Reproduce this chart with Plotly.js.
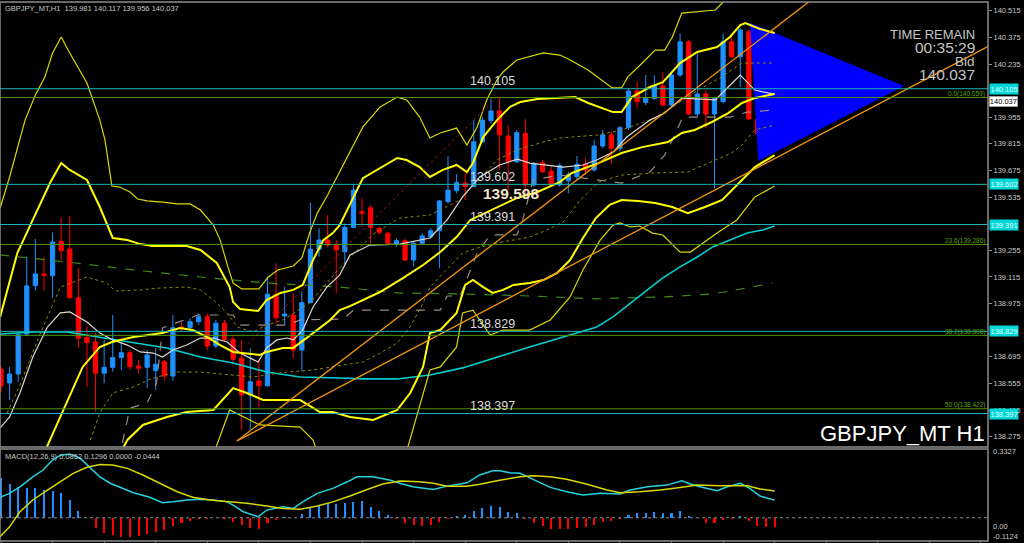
<!DOCTYPE html>
<html><head><meta charset="utf-8">
<script src="https://cdn.plot.ly/plotly-3.0.1.min.js"></script>
<style>html,body{margin:0;padding:0;background:#000;}#chart{width:1024px;height:543px;}</style>
</head><body><div id="chart"></div>
<script>
// ---------------- DATA ----------------
const symbol = 'GBPJPY_MT';
const timeframe = 'H1';
const barIndex = Array.from({length: 91}, (_, i) => i);
const open = [138.631,138.558,138.605,138.815,139.069,139.131,139.122,139.303,139.262,139.006,
138.798,138.773,138.609,138.640,138.691,138.717,138.647,138.640,138.622,138.670,
138.594,138.852,138.850,138.880,138.906,138.752,138.872,138.787,138.688,138.495,
138.568,138.543,139.024,138.910,138.915,138.731,138.980,139.261,139.309,139.283,
139.248,139.376,139.458,139.479,139.371,139.345,139.288,139.306,139.204,139.292,
139.327,139.358,139.511,139.569,139.608,139.590,139.826,139.937,139.988,139.856,
139.721,139.870,139.599,139.716,139.672,139.599,139.621,139.642,139.709,139.678,
139.804,139.862,139.792,139.900,140.093,140.033,140.054,140.119,140.019,140.177,
140.352,139.972,140.077,139.972,140.037,140.352,140.273,140.405,139.946,139.874,139.981];
const high = [138.647,138.642,138.821,139.222,139.315,139.220,139.348,139.429,139.436,139.162,
138.854,138.821,138.784,138.915,138.775,138.731,138.679,138.731,138.740,138.679,
138.915,138.880,138.898,138.924,138.924,138.889,138.889,138.801,138.784,138.740,
138.679,139.117,139.187,139.064,139.029,139.038,139.506,139.371,139.441,139.309,
139.397,139.602,139.529,139.494,139.379,139.353,139.318,139.318,139.301,139.345,
139.371,139.520,139.751,139.656,139.660,139.940,139.958,140.054,140.058,139.914,
139.888,139.944,139.721,139.730,139.695,139.713,139.669,139.751,139.739,139.835,
139.888,139.879,139.909,140.107,140.142,140.177,140.177,140.194,140.194,140.396,
140.361,140.291,140.098,140.063,140.396,140.396,140.423,140.414,140.037,140.028,140.117];
const low = [138.510,138.468,138.563,138.810,139.043,139.041,139.005,139.204,138.999,138.742,
138.538,138.407,138.556,138.617,138.626,138.626,138.609,138.531,138.521,138.570,
138.570,138.827,138.827,138.863,138.731,138.740,138.775,138.661,138.311,138.311,
138.433,138.538,138.872,138.863,138.688,138.617,138.977,139.222,139.274,139.029,
139.178,139.371,139.379,139.292,139.336,139.283,139.274,139.199,139.169,139.283,
139.318,139.161,139.502,139.555,139.520,139.586,139.822,139.923,139.678,139.572,
139.713,139.555,139.590,139.660,139.590,139.590,139.555,139.625,139.651,139.669,
139.792,139.709,139.774,139.888,140.002,140.019,140.046,140.010,140.014,140.168,
139.967,139.958,139.897,139.581,140.028,140.265,140.115,139.940,139.862,139.870,139.956];
const close = [138.542,138.605,138.814,139.068,139.131,139.123,139.299,139.253,139.006,138.793,
138.770,138.609,138.640,138.691,138.717,138.643,138.635,138.705,138.656,138.594,
138.848,138.843,138.880,138.906,138.752,138.872,138.787,138.682,138.495,138.564,
138.543,139.024,138.901,138.920,138.731,138.980,139.261,139.309,139.283,139.257,
139.376,139.572,139.450,139.376,139.350,139.292,139.306,139.204,139.292,139.331,
139.358,139.515,139.572,139.611,139.590,139.826,139.940,139.988,139.862,139.721,
139.874,139.599,139.709,139.669,139.599,139.700,139.655,139.707,139.678,139.804,
139.862,139.792,139.900,140.093,140.037,140.054,140.119,140.019,140.177,140.352,
139.972,140.077,139.972,140.054,140.352,140.273,140.414,139.946,139.870,140.014,140.037];

// Bollinger bands: x = bar index, y = price
const bbUp3X = [-0.1,1.0,2.8,4.0,5.1,6.0,7.0,8.0,10.0,11.5,12.1,12.9,13.8,15.0,15.9,17.0,18.8,20.5,22.0,23.2,24.7,25.5,26.4,27.0,28.0,30.0,31.1,32.2,34.0,35.0,35.9,36.8,38.0,40.3,42.1,44.1,46.1,47.2,48.7,49.9,51.1,53.0,54.2,55.4,56.5,57.7,58.4,60.0,61.5,63.1,65.0,66.0,68.3,69.9,71.1,72.2,72.9,74.6,76.1,77.2,78.1,79.2,80.7,83.1,84.0,85.4,87.7,90.0];
const bbUp3Y = [139.478,139.641,139.940,140.072,140.166,140.293,140.377,140.293,140.135,139.940,139.835,139.593,139.588,139.562,139.525,139.515,139.509,139.499,139.499,139.467,139.388,139.309,139.168,139.083,139.052,139.052,139.115,139.152,139.173,139.215,139.346,139.451,139.546,139.746,139.904,140.009,140.061,140.046,139.956,139.846,139.872,139.898,139.809,139.904,140.046,140.151,140.193,140.256,140.272,140.293,140.282,140.261,140.203,140.151,140.109,140.109,140.166,140.240,140.308,140.308,140.377,140.503,140.508,140.519,140.561,140.634,140.650,140.561];
const bbUp2X = [-0.1,1.9,3.7,5.7,7.0,8.0,10.0,11.5,13.0,14.7,16.2,17.7,21.6,23.2,25.1,26.6,27.0,27.8,29.9,30.9,32.5,34.0,35.1,36.3,37.5,38.6,39.4,42.1,46.1,47.2,48.7,49.9,51.4,53.0,54.2,54.9,56.1,57.7,59.2,60.4,62.4,65.0,66.8,68.3,71.2,72.2,73.4,75.5,77.0,79.0,81.0,83.3,84.8,86.0,86.6,88.3,90.0];
const bbUp2Y = [138.905,139.241,139.415,139.609,139.714,139.678,139.625,139.483,139.320,139.309,139.288,139.278,139.278,139.257,139.189,139.062,138.984,138.947,138.936,138.994,139.031,139.047,139.073,139.204,139.309,139.346,139.388,139.635,139.741,139.730,139.693,139.641,139.678,139.704,139.667,139.714,139.851,139.940,140.009,140.035,140.051,140.056,140.061,140.030,139.982,139.982,140.061,140.114,140.140,140.240,140.298,140.324,140.377,140.440,140.450,140.419,140.398];
const bbUp1X = [0.7,2.2,4.5,6.9,10.0,12.3,13.3,16.2,18.5,21.6,23.2,24.7,26.3,27.5,29.3,30.9,32.8,35.9,39.4,43.3,46.4,49.9,53.4,55.7,57.7,60.0,63.1,65.0,69.5,72.2,76.1,78.4,81.1,83.6,86.2,90.0];
const bbUp1Y = [138.400,138.547,138.810,139.062,139.115,139.083,139.041,139.047,139.057,139.062,139.047,138.994,138.926,138.852,138.826,138.862,138.889,138.978,139.162,139.341,139.425,139.441,139.520,139.635,139.730,139.783,139.825,139.846,139.862,139.888,139.951,140.019,140.098,140.161,140.240,140.240];
const bbMidX = [4.5,5.7,7.7,9.5,11.5,12.9,15.4,17.0,18.8,20.8,22.3,24.0,25.5,27.0,30.1,30.9,32.8,34.0,34.8,36.3,38.3,39.4,40.6,44.1,46.8,49.1,51.1,53.0,54.6,57.7,60.0,62.4,65.0,66.4,69.5,72.2,74.6,77.6,79.2,80.7,82.7,84.6,86.2,87.7,90.0];
const bbMidY = [138.137,138.258,138.468,138.642,138.747,138.773,138.799,138.810,138.820,138.847,138.836,138.799,138.757,138.721,138.705,138.721,138.742,138.742,138.768,138.820,138.889,138.941,138.962,139.036,139.110,139.178,139.246,139.325,139.415,139.483,139.530,139.562,139.614,139.662,139.714,139.767,139.798,139.825,139.872,139.888,139.930,139.977,140.030,140.056,140.077];
const bbLo1X = [10.4,11.5,13.0,15.4,17.7,20.5,23.2,26.3,29.3,30.9,33.3,36.3,38.6,42.1,44.1,46.1,47.6,49.1,49.9,53.7,55.4,57.7,59.6,61.5,63.5,65.4,67.4,69.5,72.2,76.1,79.9,82.2,85.0,86.2,87.7,90.0];
const bbLo1Y = [138.258,138.400,138.505,138.537,138.584,138.615,138.615,138.600,138.589,138.600,138.615,138.626,138.642,138.668,138.715,138.768,138.852,138.978,139.062,139.241,139.267,139.294,139.309,139.325,139.362,139.404,139.520,139.614,139.651,139.662,139.667,139.714,139.767,139.809,139.888,139.914];
const bbLo2X = [13.9,14.7,16.5,19.3,21.6,24.7,27.0,28.6,30.5,34.8,37.1,38.6,40.6,43.3,46.1,47.6,49.1,49.9,51.1,53.0,54.0,54.9,56.1,57.2,58.4,59.6,61.5,63.1,64.7,66.2,67.7,69.2,70.8,72.2,74.1,76.1,78.1,79.9,81.9,83.9,86.2,87.7,90.0];
const bbLo2Y = [138.190,138.258,138.337,138.379,138.405,138.416,138.531,138.505,138.468,138.468,138.405,138.405,138.379,138.363,138.416,138.505,138.642,138.820,138.836,138.926,139.073,139.099,139.062,139.031,139.047,139.073,139.083,139.099,139.136,139.204,139.320,139.425,139.494,139.520,139.515,139.504,139.483,139.451,139.483,139.520,139.625,139.693,139.756];
const bbLo3X = [24.9,26.6,30.1,34.8,36.3,36.9,41.7,47.0,47.3,48.7,49.9,51.1,53.0,53.7,54.9,56.9,58.4,61.5,63.9,66.2,67.7,69.7,71.2,72.0,73.2,74.3,75.8,77.0,79.0,80.2,81.0,83.3,85.6,87.7,90.0];
const bbLo3Y = [138.205,138.416,138.337,138.326,138.258,138.179,138.048,138.153,138.216,138.431,138.626,138.642,138.747,138.926,138.941,138.810,138.836,138.836,138.889,139.010,139.152,139.309,139.388,139.399,139.378,139.383,139.346,139.336,139.246,139.246,139.273,139.346,139.415,139.536,139.593];
// Moving averages
const maFastX = [-0.1,1.0,2.2,3.7,5.4,6.9,8.0,10.0,11.5,13.0,14.7,16.2,17.7,18.8,20.0,21.6,23.2,24.7,26.3,27.8,29.9,30.9,32.1,33.3,34.0,35.1,36.3,37.9,39.4,40.6,42.9,46.4,49.9,51.9,53.7,55.7,58.0,60.1,61.5,65.4,67.7,69.3,71.2,72.8,75.5,77.2,79.2,81.1,83.1,84.6,86.0,87.7,88.6,90.0];
const maFastY = [138.321,138.379,138.505,138.694,138.852,138.926,138.931,138.878,138.820,138.784,138.757,138.721,138.715,138.694,138.731,138.757,138.794,138.794,138.773,138.715,138.668,138.742,138.784,138.794,138.784,138.836,138.957,139.062,139.125,139.231,139.283,139.288,139.320,139.415,139.536,139.641,139.704,139.735,139.714,139.693,139.704,139.730,139.772,139.851,139.940,139.977,140.056,140.051,140.046,140.114,140.177,140.098,140.088,140.077];
const maSlowX = [-0.1,3.7,7.7,11.5,15.4,19.3,23.2,27.0,30.9,34.8,39.4,42.1,46.1,49.9,53.7,57.7,61.5,65.4,69.3,71.2,73.2,75.2,77.0,79.0,81.0,82.8,84.8,86.8,88.6,90.0];
const maSlowY = [138.815,138.826,138.826,138.799,138.768,138.742,138.694,138.663,138.615,138.589,138.584,138.579,138.579,138.600,138.637,138.694,138.747,138.799,138.852,138.905,138.978,139.047,139.110,139.168,139.220,139.273,139.309,139.346,139.362,139.383];
const ma200X = [-0.1,7.7,15.4,23.2,30.9,39.4,46.1,53.7,61.5,69.3,77.0,82.8,86.8,89.7];
const ma200Y = [139.231,139.194,139.152,139.115,139.083,139.062,139.031,139.026,139.015,139.000,139.010,139.026,139.057,139.083];
const kijunX = [13.6,14.2,15.0,17.0,18.1,18.8,22.9,27.0,27.8,33.3,34.8,39.8,41.0,51.1,51.9,53.4,55.4,56.9,60.0,60.6,61.2,61.9,65.0,69.7,72.2,75.5,77.2,78.1,79.3,84.8,86.8,90.0];
const kijunY = [138.153,138.258,138.426,138.452,138.558,138.847,138.915,138.915,138.862,138.862,138.889,138.894,138.941,138.941,139.015,139.015,139.241,139.336,139.336,139.399,139.504,139.625,139.651,139.625,139.609,139.667,139.756,139.835,139.956,139.956,139.982,139.993];
// MACD(12,26,9)
const macdX = [-0.1,1.0,2.2,3.7,4.9,6.0,6.9,8.0,9.2,10.4,11.5,12.7,14.2,15.4,17.3,18.8,20.0,21.6,23.2,24.7,26.3,27.0,28.2,29.9,30.9,32.8,34.0,35.1,36.8,38.6,40.3,41.4,43.3,45.3,46.4,47.9,50.3,51.9,54.2,55.7,57.2,58.0,59.2,60.4,61.9,63.9,65.8,67.7,69.7,72.0,73.2,75.2,77.5,78.2,79.2,80.2,81.3,83.3,84.5,86.0,87.1,88.3,90.0];
const macdY = [0.099,0.118,0.150,0.198,0.231,0.279,0.303,0.308,0.288,0.239,0.198,0.167,0.142,0.121,0.099,0.073,0.077,0.086,0.089,0.086,0.077,0.061,0.029,0.005,0.037,0.053,0.045,0.077,0.118,0.142,0.174,0.198,0.198,0.182,0.167,0.150,0.137,0.153,0.169,0.207,0.227,0.227,0.218,0.215,0.186,0.147,0.126,0.110,0.118,0.115,0.134,0.150,0.158,0.167,0.179,0.163,0.150,0.131,0.150,0.167,0.142,0.105,0.0852];
const signalX = [-0.1,1.0,2.2,3.7,5.4,6.9,8.4,10.0,11.5,13.0,14.7,16.5,18.5,20.5,22.3,24.3,26.6,28.6,30.9,32.8,34.8,36.8,38.6,40.6,42.6,44.4,46.4,48.7,50.3,51.9,54.2,55.7,58.0,60.4,61.9,63.9,65.8,68.2,70.5,72.0,74.3,76.7,79.0,81.0,83.6,86.8,88.3,90.0];
const signalY = [-0.092,-0.044,0.029,0.086,0.134,0.174,0.215,0.244,0.258,0.255,0.239,0.207,0.167,0.126,0.099,0.086,0.077,0.070,0.057,0.045,0.041,0.057,0.077,0.105,0.137,0.163,0.178,0.174,0.167,0.153,0.153,0.162,0.182,0.198,0.203,0.198,0.186,0.162,0.134,0.121,0.126,0.134,0.147,0.158,0.155,0.155,0.139,0.1296];
const macdHist = [0.191,0.163,0.150,0.145,0.142,0.134,0.129,0.118,0.086,0.034,
-0.003,-0.051,-0.076,-0.084,-0.092,-0.092,-0.089,-0.079,-0.068,-0.060,
-0.040,-0.027,-0.015,-0.006,-0.006,-0.001,-0.006,-0.019,-0.035,-0.051,
-0.056,-0.024,-0.011,0.005,0.001,0.018,0.045,0.061,0.073,0.066,
0.070,0.077,0.081,0.053,0.034,0.013,-0.006,-0.024,-0.035,-0.040,
-0.035,-0.019,-0.005,0.008,0.013,0.034,0.048,0.058,0.050,0.029,
0.021,-0.008,-0.027,-0.040,-0.056,-0.056,-0.056,-0.051,-0.046,-0.035,
-0.019,-0.015,-0.006,0.013,0.021,0.024,0.029,0.021,0.024,0.034,
0.010,0.001,-0.024,-0.027,-0.011,-0.005,0.010,-0.016,-0.040,-0.046,-0.0444];
const macdHeader = ['MACD(12,26,9)', '0.0852', '0.1296', '0.0000', '-0.0444'];
const macdAxisLabels = [0.3327, 0.00, -0.1124];
// Drawn objects
const priceLevels = [140.105, 139.602, 139.391, 138.829, 138.397];
const fibPct = ['0.0', '23.6', '38.2', '50.0'];
const fibLevels = [140.059, 139.286, 138.808, 138.422];
const markLabel = 139.598;
const trendAX = [27.45, 64.45], trendAY = [138.253, 139.537];
const trendBX = [27.45, 85.97], trendBY = [138.253, 139.642];
const redLineX = [28.7, 57.7], redLineY = [138.763, 140.061];
const triX = [87.13, 105.05, 88.1], triY = [140.452, 140.119, 139.725];
const axisTicks = [140.515,140.375,140.235,139.955,139.815,139.675,139.535,139.255,139.115,138.975,138.695,138.555,138.415,138.275];
const timeRemain = '00:35:29';
const bid = 140.037;

// ---------------- CHART ----------------
const X_RANGE = [-0.116, 114.82];
const Y_RANGE = [138.221, 140.561];
const M_RANGE = [-0.1124, 0.3327];
const FONT = 'Liberation Sans, Arial, sans-serif';
const py = Y => (541 - Y) / 539; // pixel row -> paper fraction
const px = X => X / 988;

function line(x, y, color, width, dash, yaxis) {
  return {type:'scatter', mode:'lines', x, y, xaxis:'x', yaxis: yaxis || 'y',
    line:{color, width, dash: dash || 'solid'}, hoverinfo:'skip', showlegend:false, cliponaxis:true};
}
function ray(xs, ys, xEnd) {
  const k = (ys[1] - ys[0]) / (xs[1] - xs[0]);
  return [[xs[0], xEnd], [ys[0], ys[0] + k * (xEnd - xs[0])]];
}

const traces = [];
traces.push({type:'scatter', mode:'lines', x: triX.concat([triX[0]]), y: triY.concat([triY[0]]),
  fill:'toself', fillcolor:'#0000FF', line:{width:0, color:'#0000FF'}, hoverinfo:'skip', showlegend:false});
traces.push({type:'candlestick', x: barIndex, open, high, low, close, xaxis:'x', yaxis:'y',
  increasing:{line:{color:'#1E90FF', width:1}, fillcolor:'#1E90FF'},
  decreasing:{line:{color:'#FF0000', width:1}, fillcolor:'#FF0000'},
  whiskerwidth:0, hoverinfo:'skip', showlegend:false});
traces.push(line(ma200X, ma200Y, '#3f8a10', 1.2, 'dash'));
traces.push(line(maSlowX, maSlowY, '#00CED1', 1.6));
traces.push(line(kijunX, kijunY, '#9a8c80', 1.2, 'dash'));
traces.push(line(bbUp1X, bbUp1Y, '#8a8a00', 1, 'dot'));
traces.push(line(bbLo1X, bbLo1Y, '#8a8a00', 1, 'dot'));
traces.push(line(maFastX, maFastY, '#e0d8d0', 1.2));
traces.push(line(bbUp3X, bbUp3Y, '#d8d800', 1.2));
traces.push(line(bbLo3X, bbLo3Y, '#d8d800', 1.2));
traces.push(line(bbUp2X, bbUp2Y, '#FFFF00', 2));
traces.push(line(bbLo2X, bbLo2Y, '#FFFF00', 2));
traces.push(line(bbMidX, bbMidY, '#FFFF00', 2));
const rA = ray(trendAX, trendAY, X_RANGE[1] + 5);
const rB = ray(trendBX, trendBY, X_RANGE[1] + 5);
traces.push(line(rA[0], rA[1], '#F0960A', 1.3));
traces.push(line(rB[0], rB[1], '#F0960A', 1.3));
traces.push(line(redLineX, redLineY, '#a01010', 1, 'dot'));
// MACD panel
traces.push({type:'bar', x: barIndex, y: macdHist, xaxis:'x', yaxis:'y2', width:0.24,
  marker:{color: macdHist.map(v => v >= 0 ? '#1E90FF' : '#FF0000'), line:{width:0}},
  hoverinfo:'skip', showlegend:false});
traces.push(line(macdX, macdY, '#22D3DD', 1.5, 'solid', 'y2'));
traces.push(line(signalX, signalY, '#D8D800', 1.5, 'solid', 'y2'));

const shapes = [];
priceLevels.forEach(v => shapes.push({type:'line', xref:'paper', x0:0, x1:1, yref:'y', y0:v, y1:v,
  line:{color:'#1fb2b2', width:1}, layer:'above'}));
fibLevels.forEach(v => shapes.push({type:'line', xref:'paper', x0:0, x1:1, yref:'y', y0:v, y1:v,
  line:{color:'#4c9400', width:1}, layer:'above'}));
shapes.push({type:'line', xref:'paper', x0:0, x1:1, yref:'y2', y0:0, y1:0, line:{color:'#8a8a8a', width:1, dash:'dot'}});
shapes.push({type:'rect', xref:'paper', x0:0, x1:1, yref:'y domain', y0:0, y1:1, line:{color:'#8c8c8c', width:1.5}});
shapes.push({type:'rect', xref:'paper', x0:0, x1:1, yref:'y2 domain', y0:0, y1:1, line:{color:'#8c8c8c', width:1.5}});

const ann = [];
const last = barIndex.length - 1;
ann.push({xref:'paper', yref:'paper', x:0, y:1, xanchor:'left', yanchor:'top', xshift:3, yshift:0, showarrow:false,
  text: `${symbol},${timeframe}  ${open[last].toFixed(3)} ${high[last].toFixed(3)} ${low[last].toFixed(3)} ${close[last].toFixed(3)}`,
  font:{family:FONT, size:7.5, color:'#c8c8c8'}});
ann.push({xref:'paper', yref:'y2 domain', x:0, y:1, xanchor:'left', yanchor:'top', xshift:3, yshift:-1, showarrow:false,
  text: macdHeader.join(' '), font:{family:FONT, size:7.5, color:'#c8c8c8'}});
priceLevels.forEach(v => {
  ann.push({xref:'paper', yref:'y', x:px(468), y:v, xanchor:'left', yanchor:'middle', yshift:7.5, showarrow:false,
    text: v.toFixed(3), font:{family:FONT, size:12.5, color:'#dcdcdc'}});
  ann.push({xref:'paper', yref:'y', x:1, y:v, xanchor:'left', yanchor:'middle', xshift:1, showarrow:false,
    text: v.toFixed(3), bgcolor:'#00D8D8', borderpad:0.5, font:{family:FONT, size:7.5, color:'#e8ffff'}});
});
ann.push({xref:'paper', yref:'y', x:px(481), y:markLabel, xanchor:'left', yanchor:'middle', yshift:-8, showarrow:false,
  text: '<b>' + markLabel.toFixed(3) + '</b>', font:{family:FONT, size:15.5, color:'#f3e4c8'}});
fibLevels.forEach((v, k) => ann.push({xref:'paper', yref:'y', x:1, y:v, xanchor:'right', yanchor:'middle', xshift:-1, yshift:3.5,
  showarrow:false, text: `${fibPct[k]}(${v.toFixed(3)})`, font:{family:FONT, size:6.5, color:'#5fa000'}}));
ann.push({xref:'paper', yref:'y', x:1, y:bid, xanchor:'left', yanchor:'middle', xshift:1, showarrow:false,
  text: bid.toFixed(3), bgcolor:'#ffffff', bordercolor:'#808080', borderwidth:0.5, borderpad:0.3,
  font:{family:FONT, size:7.5, color:'#000000'}});
macdAxisLabels.forEach((v, k) => ann.push({xref:'paper', yref:'y2', x:1, y:v, xanchor:'left', yanchor:'middle', xshift:3,
  yshift:[-3, -9, 5][k], showarrow:false, text: v === 0 ? '0.00' : v.toFixed(4), font:{family:FONT, size:7.5, color:'#c8c8c8'}}));
const infoLines = [['TIME REMAIN', 34.7, 13], [timeRemain, 47.5, 15.5], ['Bid', 61.5, 13.5], [bid.toFixed(3), 74.2, 15.5]];
infoLines.forEach(([t, Y, s]) => ann.push({xref:'paper', yref:'paper', x:px(977), y:py(Y), xanchor:'right', yanchor:'middle',
  showarrow:false, text:t, font:{family:FONT, size:s, color:'#c4c4c4'}}));
ann.push({xref:'paper', yref:'paper', x:px(987), y:py(433.5), xanchor:'right', yanchor:'middle', showarrow:false,
  text: `${symbol} ${timeframe}`, font:{family:FONT, size:22, color:'#ffffff'}});

const layout = {
  width:1024, height:543, margin:{l:0, r:36, t:2, b:2}, paper_bgcolor:'#000', plot_bgcolor:'#000',
  showlegend:false, dragmode:false, bargap:0,
  xaxis:{range:X_RANGE, anchor:'y2', showgrid:false, zeroline:false, showticklabels:false, ticks:'outside', ticklen:3,
    tickcolor:'#8c8c8c', tickvals: barIndex.filter(i => i % 6 === 0).concat([96,102,108,114]), rangeslider:{visible:false}, fixedrange:true},
  yaxis:{domain:[0.1744, 1], range:Y_RANGE, side:'right', anchor:'x', showgrid:false, zeroline:false,
    tickvals: axisTicks, ticktext: axisTicks.map(v => v.toFixed(3)), ticks:'outside', ticklen:3, tickcolor:'#8c8c8c',
    tickfont:{family:FONT, size:7.5, color:'#c8c8c8'}, showline:false, fixedrange:true},
  yaxis2:{domain:[0, 0.1707], range:M_RANGE, side:'right', anchor:'x', showgrid:false, zeroline:false,
    showticklabels:false, showline:false, fixedrange:true},
  shapes, annotations: ann
};
Plotly.newPlot('chart', traces, layout, {displayModeBar:false, staticPlot:true});
</script>
</body></html>
